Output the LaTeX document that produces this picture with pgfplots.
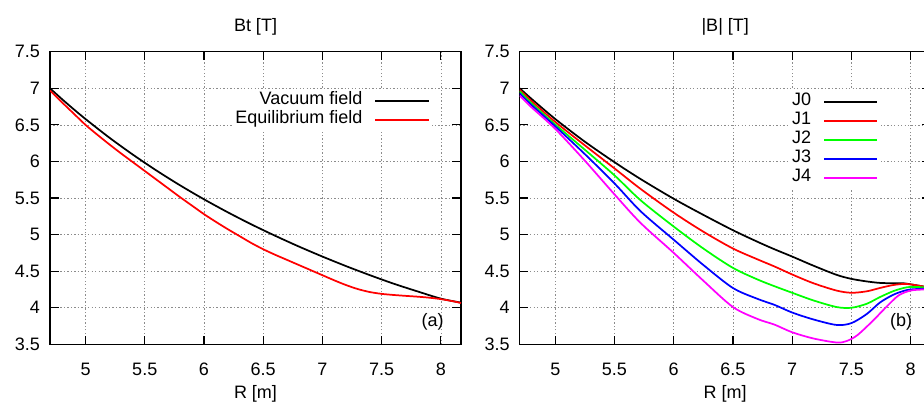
\documentclass[border=0pt]{standalone}
\usepackage{fontspec}
\setmainfont{Liberation Sans}
\usepackage{pgfplots}
\pgfplotsset{compat=1.18}

\definecolor{gpred}{RGB}{255,0,0}
\definecolor{gpgreen}{RGB}{0,255,0}
\definecolor{gpblue}{RGB}{0,0,255}
\definecolor{gpmagenta}{RGB}{255,0,255}

\newcommand\gpf{\fontsize{13.5}{16.2}\selectfont}

% gnuplot-like look: inward ticks on all sides, dotted grid, opaque key
\pgfplotsset{
  gp/.style={
    scale only axis, width=308.25pt, height=219.45pt,
    xmin=4.7, xmax=8.17, ymin=3.5, ymax=7.5,
    xtick={5,5.5,...,8}, ytick={3.5,4,...,7.5},
    xtick pos=both, ytick pos=both,
    tick align=inside, major tick length=6.5pt,
    tick style={black, line width=0.9pt},
    axis line style={line width=1.1pt},
    grid=major,
    grid style={black!45, line width=0.5pt, dash pattern=on 1pt off 1.6pt},
    /pgf/number format/assume math mode=true,
    ticklabel style={font=\gpf},
    xticklabel style={yshift=-10.5pt},
    yticklabel style={xshift=-4pt},
    label style={font=\gpf},
    title style={font=\gpf, at={(axis description cs:0.5,1)}, anchor=center, yshift=12.5pt},
    xlabel style={at={(axis description cs:0.5,0)}, anchor=center, yshift=-37.5pt},
    legend plot pos=right,
    legend cell align=right,
    legend image code/.code={\draw[##1, line width=1.5pt] (0pt,0pt) -- (40pt,0pt);},
    legend style={draw=none, fill=white, inner sep=2pt, font=\gpf,
      /tikz/column sep=9pt,
      nodes={inner sep=0pt, text height=10pt, text depth=4.25pt}},
    every axis plot/.append style={line width=1.3pt},
  }
}

\begin{document}
\begin{tikzpicture}
\begin{axis}[gp, at={(37.5pt,42.5pt)}, anchor=south west,
    title={Bt [T]}, xlabel={R [m]},
    legend style={at={(0.931,0.875)}, anchor=north east}]
\addplot[black, smooth] coordinates {
 (4.70,7.00) (4.80,6.854) (4.90,6.714) (5.00,6.58) (5.20,6.327) (5.40,6.093)
 (5.60,5.875) (5.80,5.672) (6.00,5.483) (6.20,5.306) (6.40,5.14) (6.60,4.985)
 (6.80,4.838) (7.00,4.70) (7.20,4.569) (7.40,4.446) (7.60,4.33) (7.80,4.225)
 (8.00,4.125) (8.17,4.07)};
\addplot[gpred, smooth] coordinates {
 (4.70,6.97) (4.80,6.81) (4.90,6.655) (5.00,6.50) (5.10,6.365) (5.20,6.235)
 (5.30,6.11) (5.40,5.99) (5.50,5.87) (5.60,5.75) (5.70,5.63) (5.80,5.51)
 (5.90,5.395) (6.00,5.28) (6.10,5.175) (6.20,5.075) (6.30,4.98) (6.40,4.885)
 (6.50,4.80) (6.60,4.725) (6.70,4.655) (6.80,4.585) (6.90,4.515) (7.00,4.445)
 (7.10,4.375) (7.20,4.31) (7.30,4.255) (7.40,4.215) (7.50,4.19) (7.60,4.175)
 (7.70,4.163) (7.80,4.152) (7.90,4.138) (8.00,4.118) (8.10,4.09) (8.17,4.065)};
\legend{Vacuum field, Equilibrium field}
\node[font=\gpf] at (axis cs:7.93,3.81) {(a)};
\end{axis}

\begin{axis}[gp, at={(389.8pt,42.5pt)}, anchor=south west,
    title={|B| [T]}, xlabel={R [m]},
    legend style={at={(0.880,0.872)}, anchor=north east}]
% J0
\addplot[black, smooth] coordinates {
 (4.70,7.00) (4.80,6.855) (5.00,6.58) (5.25,6.27) (5.50,5.99) (5.72,5.76)
 (6.00,5.49) (6.25,5.27) (6.50,5.06) (6.71,4.90) (6.85,4.80) (7.00,4.70)
 (7.18,4.575) (7.375,4.45) (7.50,4.395) (7.63,4.36) (7.74,4.34) (7.85,4.335)
 (7.94,4.335) (8.00,4.32) (8.11,4.29) (8.17,4.27)};
% J1
\addplot[gpred, smooth] coordinates {
 (4.70,6.98) (4.80,6.825) (5.00,6.54) (5.25,6.22) (5.50,5.905) (5.72,5.625)
 (6.00,5.30) (6.25,5.04) (6.50,4.81) (6.71,4.66) (6.85,4.565) (7.00,4.455)
 (7.18,4.335) (7.375,4.235) (7.50,4.205) (7.63,4.225) (7.74,4.27) (7.85,4.31)
 (7.94,4.325) (8.00,4.32) (8.11,4.29) (8.17,4.27)};
% J2
\addplot[gpgreen, smooth] coordinates {
 (4.70,6.96) (4.80,6.795) (5.00,6.505) (5.25,6.16) (5.50,5.81) (5.72,5.47)
 (6.00,5.11) (6.25,4.81) (6.50,4.545) (6.71,4.385) (6.85,4.295) (7.00,4.205)
 (7.18,4.10) (7.375,4.01) (7.50,4.00) (7.63,4.055) (7.74,4.145) (7.85,4.225)
 (7.94,4.27) (8.00,4.285) (8.11,4.28) (8.17,4.27)};
% J3
\addplot[gpblue, smooth] coordinates {
 (4.70,6.93) (4.80,6.77) (5.00,6.48) (5.25,6.10) (5.50,5.70) (5.72,5.32)
 (6.00,4.93) (6.25,4.585) (6.50,4.27) (6.71,4.12) (6.85,4.04) (7.00,3.935)
 (7.18,3.84) (7.375,3.765) (7.50,3.79) (7.63,3.915) (7.74,4.07) (7.85,4.175)
 (7.94,4.23) (8.00,4.25) (8.11,4.26) (8.17,4.26)};
% J4
\addplot[gpmagenta, smooth] coordinates {
 (4.70,6.90) (4.80,6.74) (5.00,6.445) (5.25,6.01) (5.50,5.55) (5.72,5.16)
 (6.00,4.75) (6.25,4.37) (6.50,4.01) (6.71,3.845) (6.85,3.77) (7.00,3.665)
 (7.18,3.58) (7.375,3.525) (7.46,3.545) (7.55,3.625) (7.68,3.82) (7.80,4.02)
 (7.90,4.17) (8.00,4.235) (8.11,4.25) (8.17,4.25)};
\legend{J0, J1, J2, J3, J4}
\node[font=\gpf] at (axis cs:7.92,3.81) {(b)};
\end{axis}

\pgfresetboundingbox
\path[use as bounding box] (0,0) rectangle (693pt,300.75pt);
\end{tikzpicture}
\end{document}
